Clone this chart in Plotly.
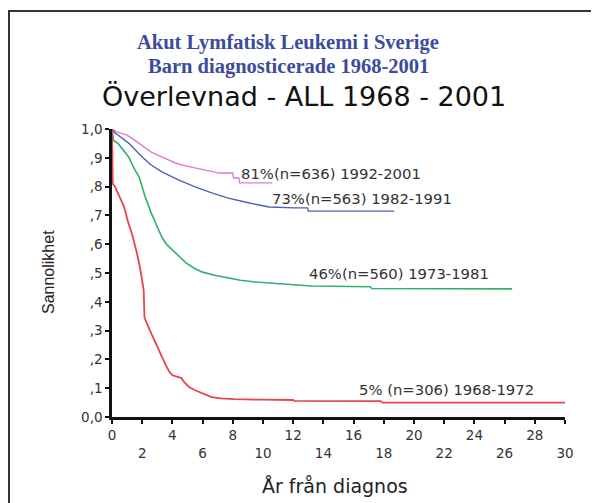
import plotly.graph_objects as go

# ---- data ----
t_9201 = [0, 0.3, 0.6, 1.0, 1.4, 1.8, 2.2, 2.6, 3.0, 3.3, 3.7, 4.2, 4.8, 5.5, 6.2, 7.1, 8.0, 8.05, 8.4, 8.45, 10.6]
p_9201 = [1.0, 0.99, 0.985, 0.979, 0.965, 0.951, 0.935, 0.92, 0.91, 0.903, 0.893, 0.882, 0.873, 0.865, 0.857, 0.847, 0.847, 0.83, 0.83, 0.813, 0.813]

t_8291 = [0, 0.2, 0.5, 1.1, 1.5, 2.0, 2.6, 3.3, 4.4, 5.5, 6.6, 7.7, 9.1, 10.4, 12.1, 12.95, 13.0, 18.7]
p_8291 = [1.0, 0.986, 0.975, 0.951, 0.93, 0.903, 0.875, 0.851, 0.823, 0.799, 0.778, 0.76, 0.743, 0.729, 0.726, 0.726, 0.715, 0.715]

t_7381 = [0, 0.1, 0.4, 0.7, 1.1, 1.5, 1.8, 2.2, 2.6, 3.0, 3.3, 3.6, 4.0, 4.5, 4.9, 5.5, 6.0, 6.8, 7.7, 8.5, 9.5, 11.3, 13.2, 17.1, 17.2, 26.5]
p_7381 = [1.0, 0.96, 0.95, 0.93, 0.903, 0.86, 0.833, 0.764, 0.708, 0.66, 0.625, 0.60, 0.58, 0.555, 0.535, 0.515, 0.503, 0.492, 0.483, 0.475, 0.469, 0.462, 0.455, 0.452, 0.446, 0.445]

t_6872 = [0, 0.05, 0.2, 0.45, 0.8, 1.05, 1.3, 1.6, 1.85, 2.1, 2.15, 2.5, 2.8, 3.1, 3.5, 3.8, 4.0, 4.3, 4.6, 4.8, 5.1, 5.5, 6.0, 6.6, 7.2, 8.1, 10, 12.0, 12.05, 17.8, 17.9, 30]
p_6872 = [1.0, 0.81, 0.8, 0.77, 0.73, 0.68, 0.64, 0.58, 0.52, 0.44, 0.345, 0.302, 0.27, 0.233, 0.187, 0.156, 0.145, 0.139, 0.135, 0.12, 0.104, 0.093, 0.083, 0.069, 0.065, 0.062, 0.06, 0.059, 0.056, 0.055, 0.05, 0.05]

series_labels = ["81%(n=636) 1992-2001", "73%(n=563) 1982-1991", "46%(n=560) 1973-1981", "5% (n=306) 1968-1972"]
label_x = [8.4, 10.45, 12.9, 16.2]
label_y = [0.847, 0.76, 0.497, 0.097]

x_tickvals = list(range(0, 31, 2))
x_ticktext = [str(v) if i % 2 == 0 else "<br>" + str(v) for i, v in enumerate(x_tickvals)]
y_tickvals = [i / 10 for i in range(11)]
y_ticktext = ["0,0", ",1", ",2", ",3", ",4", ",5", ",6", ",7", ",8", ",9", "1,0"]

colors = ["#e27acb", "#4f5fb5", "#2fb06c", "#e8434e"]

OFF = 8  # page offset of the figure inside the browser window
W, H = 599, 503
# plot area in page pixels: x 112..565, y 129..417
L, R, T, B = 112 - OFF, W - (565 - OFF), 129 - OFF, H - (417 - OFF)
PW, PH = W - L - R, H - T - B


def px(x):
    return (x - OFF - L) / PW


def py(y):
    return (H - B - (y - OFF)) / PH


serif = "Liberation Serif, Times New Roman"
sans = "Liberation Sans, Arial"
wide = "DejaVu Sans, Verdana"

fig = go.Figure()
for t, p, c, w in [(t_9201, p_9201, colors[0], 1.4), (t_8291, p_8291, colors[1], 1.4),
                   (t_7381, p_7381, colors[2], 1.6), (t_6872, p_6872, colors[3], 1.8)]:
    fig.add_trace(go.Scatter(x=t, y=p, mode="lines", line=dict(color=c, width=w),
                             showlegend=False, hoverinfo="skip", cliponaxis=False))

for txt, xx, yy in zip(series_labels, label_x, label_y):
    fig.add_annotation(x=xx, y=yy, text=txt, showarrow=False, xanchor="left", yanchor="middle",
                       font=dict(family=wide, size=14.8, color="#333"))


def title(text, x, y, size, family, color, **kw):
    fig.add_annotation(x=px(x), y=py(y), xref="paper", yref="paper", text=text, showarrow=False,
                       xanchor="center", yanchor="middle", font=dict(family=family, size=size, color=color), **kw)


title("<b>Akut Lymfatisk Leukemi i Sverige</b>", 288, 43, 20.5, serif, "#3b4b9e")
title("<b>Barn diagnosticerade 1968-2001</b>", 288, 66, 20.5, serif, "#3b4b9e")
title("Överlevnad - ALL 1968 - 2001", 304, 96, 27, wide, "#111")
title("Sannolikhet", 48, 272, 16, sans, "#222", textangle=-90)
title("År från diagnos", 335, 486, 19, wide, "#222")

fig.add_shape(type="rect", xref="paper", yref="paper", x0=px(9), x1=px(598), y0=py(520), y1=py(11),
              line=dict(color="#333", width=2), layer="below")

axis_common = dict(showgrid=False, zeroline=False, showline=True, linecolor="#111", linewidth=2.5,
                   ticks="outside", ticklen=4, tickwidth=2, tickcolor="#111",
                   tickfont=dict(family=wide, size=13.5, color="#333"))
fig.update_layout(
    width=W, height=H, margin=dict(l=L, r=R, t=T, b=B),
    paper_bgcolor="white", plot_bgcolor="white",
    xaxis=dict(range=[0, 30], tickvals=x_tickvals, ticktext=x_ticktext, **axis_common),
    yaxis=dict(range=[0, 1.0], tickvals=y_tickvals, ticktext=y_ticktext, **axis_common),
)

fig.write_html("out.html")
